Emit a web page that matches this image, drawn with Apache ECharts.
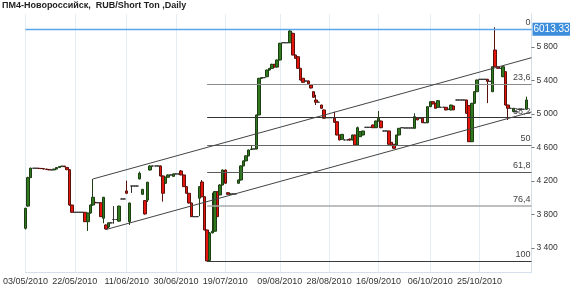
<!DOCTYPE html>
<html><head><meta charset="utf-8">
<script src="https://cdn.jsdelivr.net/npm/echarts@6/dist/echarts.min.js"></script>
<style>html,body{margin:0;padding:0;background:#fff}#c{width:570px;height:286px}</style>
</head><body><div id="c"></div>
<script>
const titleText = 'ПМ4-Новороссийск,  RUB/Short Ton ,Daily';
const startYear = 2010, startMonth = 5, startDay = 3;
const dayCount = 196;
const tickLabels = ['03/05/2010','22/05/2010','11/06/2010','30/06/2010','19/07/2010','09/08/2010','28/08/2010','16/09/2010','06/10/2010','25/10/2010'];
const yTicks = [3400, 3800, 4200, 4600, 5000, 5400, 5800];

// [open, close, low, high] for each calendar day from 03/05/2010
const candles = [
[3635,3874,3620,3880],[3900,4240,3890,4250],[4240,4352,4235,4360],[4352,4352,4348,4356],[4352,4352,4350,4354],
[4352,4350,4346,4354],[4350,4348,4345,4352],[4348,4342,4340,4350],[4342,4338,4335,4344],[4338,4332,4330,4340],
[4332,4332,4330,4334],[4332,4342,4330,4345],[4342,4360,4340,4362],[4360,4372,4358,4375],[4372,4378,4370,4380],
[4378,4370,4366,4380],[4362,4335,4330,4365],[4335,3913,3905,4340],[3913,3826,3820,3915],[3826,3826,3824,3828],
[3826,3826,3824,3828],[3826,3826,3824,3828],[3826,3826,3824,3828],[3826,3714,3710,3830],[3714,3818,3603,3820],
[3818,3913,3810,3920],[3913,4005,3905,4224],[3945,3940,3935,3950],[3940,3940,3936,3944],[3940,3774,3770,3945],
[3755,4005,3695,4010],[3675,3627,3620,3680],[3650,3700,3640,3705],[3700,3700,3696,3704],[3740,3740,3690,3900],
[3740,3740,3736,3744],[3720,3900,3715,3905],[3985,3985,3981,3989],[3985,3985,3981,3989],[4081,4053,4050,4204],
[3714,3937,3675,3940],[4140,4140,4057,4144],[4140,4140,4136,4144],[4140,4140,4136,4144],[4224,4292,4220,4312],
[4041,4100,4035,4105],[3966,3806,3800,3970],[3973,4185,3950,4190],[4331,4379,4325,4385],[4379,4379,4375,4383],
[4379,4379,4375,4383],[4379,4379,4375,4383],[4379,4260,4255,4385],[4260,4053,3953,4265],[4173,4245,4165,4250],
[4245,4272,4240,4278],[4272,4272,4268,4276],[4255,4284,4250,4290],[4284,4284,4280,4288],[4284,4284,4280,4288],
[4320,4272,4268,4331],[4272,4132,4128,4276],[4132,4053,4050,4140],[4053,3937,3930,4057],[3937,3774,3770,3940],
[3774,3774,3770,3778],[3774,3774,3770,3778],[3994,4132,3780,4136],[4188,4012,4005,4212],[4012,3615,3610,4015],
[3615,3245,3245,3620],[3250,3579,3245,3590],[3580,3600,3575,4060],[3600,4073,3595,4080],[4073,3774,3770,4075],
[4033,4152,4030,4160],[4152,4331,4148,4335],[4331,4173,4168,4335],[4060,4041,4035,4065],[4041,4045,4038,4050],
[4045,4045,4042,4048],[4045,4045,4042,4048],[4173,4212,4168,4216],[4212,4380,4205,4385],[4380,4440,4375,4445],
[4440,4500,4435,4505],[4500,4570,4495,4575],[4575,4582,4570,4630],[4582,4582,4578,4586],[4582,4988,4578,4992],
[4988,5426,4985,5430],[5426,5434,5420,5440],[5434,5434,5430,5438],[5445,5525,5440,5530],[5525,5545,5520,5550],
[5545,5593,5540,5600],[5593,5560,5555,5598],[5560,5645,5555,5650],[5645,5844,5640,5850],[5851,5851,5847,5855],
[5851,5851,5847,5855],[5851,5851,5847,5855],[5851,5991,5846,6013.33],[5963,5704,5700,5970],[5704,5665,5660,5708],
[5684,5545,5540,5690],[5545,5406,5400,5550],[5426,5378,5375,5430],[5394,5394,5390,5398],[5394,5360,5350,5400],
[5346,5310,5305,5350],[5267,5199,5195,5270],[5167,5140,5107,5230],[5140,5140,5136,5144],[5107,5068,5063,5110],
[5048,4949,4945,5052],[4956,4956,4952,4960],[4956,4956,4952,4960],[4956,4956,4952,4960],[4949,4901,4895,5027],
[4908,4749,4745,4912],[4749,4690,4685,4752],[4698,4757,4693,4760],[4690,4690,4686,4694],[4690,4690,4686,4694],
[4700,4690,4680,4705],[4690,4749,4685,4752],[4749,4630,4625,4752],[4630,4836,4625,4850],[4729,4789,4725,4795],
[4749,4797,4745,4800],[4841,4841,4837,4845],[4841,4841,4837,4845],[4841,4841,4837,4845],[4869,4836,4832,4872],
[4836,4916,4832,4920],[4916,4949,4910,5036],[4916,4836,4830,4920],[4797,4797,4793,4801],[4797,4797,4793,4801],
[4797,4638,4633,4800],[4662,4622,4618,4665],[4638,4590,4585,4642],[4630,4749,4625,4752],[4749,4829,4745,4833],
[4836,4836,4832,4840],[4833,4833,4829,4837],[4833,4833,4829,4837],[4833,4833,4829,4837],[4833,4833,4829,4837],
[4829,4968,4825,5008],[4956,4930,4925,4960],[4950,4956,4946,4960],[4949,4896,4892,4952],[4896,4896,4892,4900],
[4896,5087,4890,5092],[5087,5147,5082,5152],[5147,5120,5115,5150],[5128,5068,5063,5132],[5080,5159,5075,5165],
[5080,5080,5076,5084],[5080,5080,5076,5084],[5080,5048,5044,5084],[5056,5056,5052,5060],[5048,5107,5044,5110],
[5095,5050,5045,5100],[5167,5167,5163,5171],[5167,5167,5163,5171],[5167,5167,5163,5171],[5167,5167,5163,5171],
[5167,5008,5003,5170],[5100,4669,4665,5104],[4669,5128,4665,5132],[5128,5266,5124,5270],[5266,5406,5262,5410],
[5414,5414,5410,5418],[5414,5414,5410,5418],[5414,5414,5410,5418],[5414,5390,5130,5420],[5390,5390,5386,5394],
[5266,5564,5262,5568],[5764,5564,5560,6035],[5564,5545,5540,5568],[5545,5545,5541,5549],[5445,5565,5440,5570],
[5505,5107,5100,5510],[5107,5068,4928,5110],[5068,5068,5064,5072],[5030,5068,5026,5072],[5027,5027,5023,5031],
[5056,5056,5052,5060],[5056,5056,5052,5060],[5056,5056,5052,5060],[5056,5167,5052,5207]
];

const fibHigh = 6013.33, fibLow = 3245;
const fibLevels = [0, 23.6, 38.2, 50, 61.8, 76.4, 100];
const fibLabels = ['0', '23,6', '38,2', '50', '61,8', '76,4', '100'];
const fibColors = ['rgba(0,0,0,0)', '#8a8a8a', '#333', '#666', '#5a5a5a', '#aaa', '#3a3a3a'];
const fibStartDay = 70, lineEndDay = 195;
const upperChannel = [[26, 4224], [195, 5672]];
const lowerChannel = [[31, 3620], [195, 5024]];
const priceMark = 6013.33;

const pad = n => (n < 10 ? '0' : '') + n;
const days = [];
for (let i = 0; i < dayCount; i++) {
  const d = new Date(Date.UTC(startYear, startMonth - 1, startDay + i));
  days.push(pad(d.getUTCDate()) + '/' + pad(d.getUTCMonth() + 1) + '/' + d.getUTCFullYear());
}
const seriesData = days.map((_, i) => candles[i] ? candles[i] : '-');
const fmt = v => String(v).replace(/\B(?=(\d{3})+(?!\d))/g, ' ');
const FONT = 'Liberation Sans';

const markData = [];
fibLevels.forEach((p, k) => {
  const lvl = fibHigh - p / 100 * (fibHigh - fibLow);
  markData.push([
    { coord: [days[fibStartDay], lvl],
      lineStyle: { color: fibColors[k], width: k === 5 ? 1.5 : 1, type: 'solid' },
      label: { show: true, position: 'insideEndTop', formatter: fibLabels[k], color: '#444',
               fontSize: 9, fontFamily: FONT, distance: [1, 2] } },
    { coord: [days[lineEndDay], lvl] }
  ]);
});
[upperChannel, lowerChannel].forEach(ch => {
  markData.push([
    { coord: [days[ch[0][0]], ch[0][1]], lineStyle: { color: '#444', width: 1, type: 'solid' }, label: { show: false } },
    { coord: [days[ch[1][0]], ch[1][1]] }
  ]);
});

const chart = echarts.init(document.getElementById('c'), null, { renderer: 'canvas' });
chart.setOption({
  animation: false,
  backgroundColor: '#fff',
  title: { text: titleText, left: 2, top: 1, padding: 0,
           textStyle: { fontSize: 9, fontWeight: 'bold', color: '#222', fontFamily: FONT } },
  grid: { left: 22.5, right: 38.5, top: 14, bottom: 14 },
  xAxis: {
    type: 'category', data: days, boundaryGap: false,
    axisLine: { lineStyle: { color: '#d4dfec' } },
    axisTick: { show: false },
    axisLabel: { interval: (i, v) => tickLabels.includes(v), margin: 5, fontSize: 9, color: '#333', fontFamily: FONT },
    splitLine: { show: true, interval: (i, v) => tickLabels.includes(v), lineStyle: { color: '#e4ecf6' } }
  },
  yAxis: {
    type: 'value', position: 'right', min: 3113, max: 6194,
    splitLine: { show: false },
    axisLine: { show: true, lineStyle: { color: '#d4dfec' } },
    axisTick: { show: true, length: 3, customValues: yTicks, lineStyle: { color: '#777' } },
    axisLabel: { customValues: yTicks, formatter: v => fmt(v), margin: 5, fontSize: 8.5, color: '#333', fontFamily: FONT }
  },
  series: [{
    type: 'candlestick',
    data: seriesData,
    barWidth: 3,
    itemStyle: { color: '#2f7a1e', color0: '#e5140d', borderColor: '#1d3d12', borderColor0: '#5a100b',
                 borderColorDoji: '#333', borderWidth: 1 },
    markLine: { symbol: 'none', silent: true, animation: false, precision: 2, data: markData }
  }, {
    type: 'line',
    data: [],
    color: '#5aa6ec',
    markLine: {
      symbol: 'none', silent: true, animation: false, precision: 2,
      data: [{ yAxis: priceMark,
        lineStyle: { color: '#5aa6ec', width: 1.3, type: 'solid', opacity: 1 },
        label: { show: true, position: 'end', formatter: String(priceMark), color: '#fff', backgroundColor: '#3c8ddb',
                 padding: [2, 1, 1, 1], fontSize: 10, fontFamily: FONT, distance: 1 } }]
    }
  }]
});
</script></body></html>
